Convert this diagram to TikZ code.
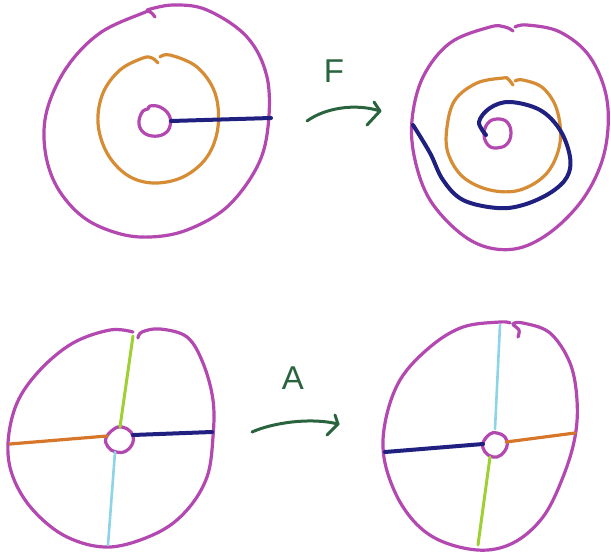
\documentclass[tikz,border=0pt]{standalone}
\usepackage{fontspec}
\setmainfont{Liberation Sans}
\definecolor{mag}{RGB}{178,72,176}
\definecolor{org}{RGB}{214,140,52}
\definecolor{org2}{RGB}{214,118,42}
\definecolor{navy}{RGB}{32,32,128}
\definecolor{agreen}{RGB}{42,100,62}
\definecolor{lime}{RGB}{158,208,52}
\definecolor{sky}{RGB}{142,212,232}
\tikzset{
  pen/.style={line width=3.2pt, line cap=round, line join=round},
  magpen/.style={pen, draw=mag},
  orgpen/.style={pen, draw=org},
  navypen/.style={pen, draw=navy, line width=4pt},
  limepen/.style={pen, draw=lime, line width=3pt},
  skypen/.style={pen, draw=sky, line width=2.6pt},
  arrpen/.style={pen, draw=agreen, line width=3pt},
  lbl/.style={text=agreen, font=\fontsize{33}{33}\selectfont, inner sep=0pt},
}
\begin{document}
\begin{tikzpicture}[x=1pt,y=-1pt]
\useasboundingbox (0,0) rectangle (611,554);
% ---------- top left ----------
\draw[magpen] plot[smooth, tension=0.6] coordinates {(155,17) (150,12) (143,13) (100,33) (67,67) (47,110) (45,150) (57,187) (83,217) (117,233) (150,237) (187,230) (227,207) (257,167) (268,127) (267,77) (247,37) (207,10) (173,5) (147,10)};
\draw[orgpen] plot[smooth, tension=0.6] coordinates {(158,63) (152,58) (143,58) (120,70) (103,93) (98,123) (107,153) (127,175) (153,183) (183,177) (207,157) (218,127) (215,93) (197,67) (170,55) (160,57)};
\draw[magpen] plot[smooth cycle, tension=0.7] coordinates {(150,106) (160,107) (169,115) (170,126) (164,134) (152,136) (142,131) (139,121) (143,111) (148,109)};
\coordinate (tlc) at (171,121);
\coordinate (tle) at (271,118);
\draw[navypen] (tlc) -- (tle);
% ---------- arrow F ----------
\coordinate (fs) at (307,121);
\coordinate (ft) at (380,111);
\draw[arrpen] (fs) .. controls (325,108) and (355,103) .. (ft);
\draw[arrpen] (374,102) -- (ft) -- (367,125);
\node[lbl] (F) at (334,71) {F};
% ---------- top right ----------
\draw[magpen] plot[smooth, tension=0.6] coordinates {(513,31) (505,27) (490,27) (450,43) (423,77) (412,120) (415,160) (430,200) (460,233) (490,248) (523,247) (557,227) (587,193) (605,150) (607,100) (590,57) (560,32) (527,25) (515,27)};
\draw[orgpen] plot[smooth, tension=0.6] coordinates {(513,85) (508,79) (503,78) (477,83) (455,100) (447,127) (448,153) (463,177) (490,190) (520,190) (547,173) (560,143) (557,110) (543,88) (523,80) (515,81)};
\draw[magpen] plot[smooth cycle, tension=0.7] coordinates {(497,119) (507,122) (511,133) (507,144) (497,148) (488,145) (484,134) (488,123)};
\draw[navypen] plot[smooth, tension=0.6] coordinates {(486,135) (479,122) (490,108) (510,102) (540,110) (560,130) (570,157) (567,177) (550,193) (523,205) (497,208) (463,200) (443,180) (430,153) (413,125)};
% ---------- bottom left ----------
\draw[magpen] plot[smooth, tension=0.6] coordinates {(138,338) (142,332) (160,329) (187,337) (203,363) (213,400) (213,437) (207,477) (187,510) (157,533) (110,547) (67,537) (33,510) (13,477) (8,443) (17,403) (40,370) (73,343) (110,330) (133,332)};
\draw[magpen] plot[smooth cycle, tension=0.7] coordinates {(114,429) (122,427) (131,432) (133,442) (126,451) (116,452) (108,447) (106,438)};
\coordinate (bl0) at (120,427);
\coordinate (bl1) at (133,336);
\coordinate (bl2) at (107,436);
\coordinate (bl3) at (10,444);
\coordinate (bl4) at (133,435);
\coordinate (bl5) at (212,432);
\coordinate (bl6) at (115,452);
\coordinate (bl7) at (108,545);
\draw[limepen] (bl0) -- (bl1);
\draw[pen, draw=org2] (bl2) -- (bl3);
\draw[navypen] (bl4) -- (bl5);
\draw[skypen] (bl6) -- (bl7);
% ---------- arrow A ----------
\coordinate (as) at (252,432);
\coordinate (at) at (338,424);
\draw[arrpen] (as) .. controls (272,423) and (310,417) .. (at);
\draw[arrpen] (335,415) -- (at) -- (327,435);
\node[lbl] (A) at (293,378) {A};
% ---------- bottom right ----------
\draw[magpen] plot[smooth, tension=0.6] coordinates {(518,337) (519,330) (513,324) (523,323) (550,333) (570,363) (577,400) (575,437) (563,477) (543,517) (513,543) (477,550) (433,537) (403,507) (385,463) (385,423) (400,380) (430,347) (463,327) (500,322) (510,323)};
\draw[magpen] plot[smooth cycle, tension=0.7] coordinates {(490,434) (497,433) (505,437) (507,446) (501,455) (493,457) (485,452) (483,443)};
\coordinate (br0) at (495,429);
\coordinate (br1) at (500,325);
\coordinate (br2) at (483,444);
\coordinate (br3) at (385,452);
\coordinate (br4) at (506,442);
\coordinate (br5) at (575,433);
\coordinate (br6) at (490,457);
\coordinate (br7) at (478,545);
\draw[skypen] (br0) -- (br1);
\draw[navypen] (br2) -- (br3);
\draw[pen, draw=org2] (br4) -- (br5);
\draw[limepen] (br6) -- (br7);
\end{tikzpicture}
\end{document}
